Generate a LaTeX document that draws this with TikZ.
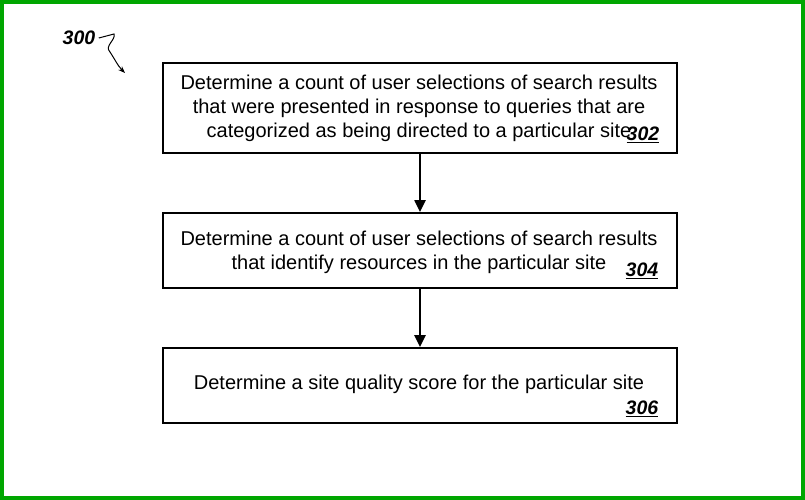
\documentclass[tikz,border=0pt]{standalone}
\usepackage{fontspec}
\setmainfont{Liberation Sans}
\usetikzlibrary{arrows.meta}
\begin{document}
\begin{tikzpicture}[x=1pt,y=-1pt,
  box/.style={draw,line width=2pt,minimum width=514pt,anchor=north west,inner sep=0pt},
  txt/.style={font=\fontsize{20}{24}\selectfont,align=center},
  lbl/.style={font=\fontsize{19.5}{20}\selectfont\bfseries\itshape},
  arr/.style={-{Triangle[length=12pt,width=11pt]},line width=2.5pt}]
\useasboundingbox (0,0) rectangle (805,500);
\draw[draw=green!65!black,line width=4pt] (2,2) rectangle (803,498);
\node[box,minimum height=90pt] (b1) at (162,62) {};
\node[box,minimum height=75pt] (b2) at (162,212) {};
\node[box,minimum height=75pt] (b3) at (162,347) {};
\node[txt] (t1) at (419,108) {Determine a count of user selections of search results\\that were presented in response to queries that are\\categorized as being directed to a particular site};
\node[lbl] (l1) at (643,135) {\underline{302}};
\node[txt] (t2) at (419,252) {Determine a count of user selections of search results\\that identify resources in the particular site};
\node[lbl] (l2) at (642,271) {\underline{304}};
\node[txt] (t3) at (419,384) {Determine a site quality score for the particular site};
\node[lbl] (l3) at (642,409) {\underline{306}};
\draw[arr] (b1.south) -- (b2.north);
\draw[arr] (b2.south) -- (b3.north);
\node[lbl] (n300) at (79,38) {300};
\coordinate (c1) at (125,73);
\draw[-{Stealth[length=7pt]},line width=1pt] (n300.east) -- (114,34) .. controls (116,40) and (104,46) .. (110,52) .. controls (114,58) and (118,66) .. (c1);
\end{tikzpicture}
\end{document}
